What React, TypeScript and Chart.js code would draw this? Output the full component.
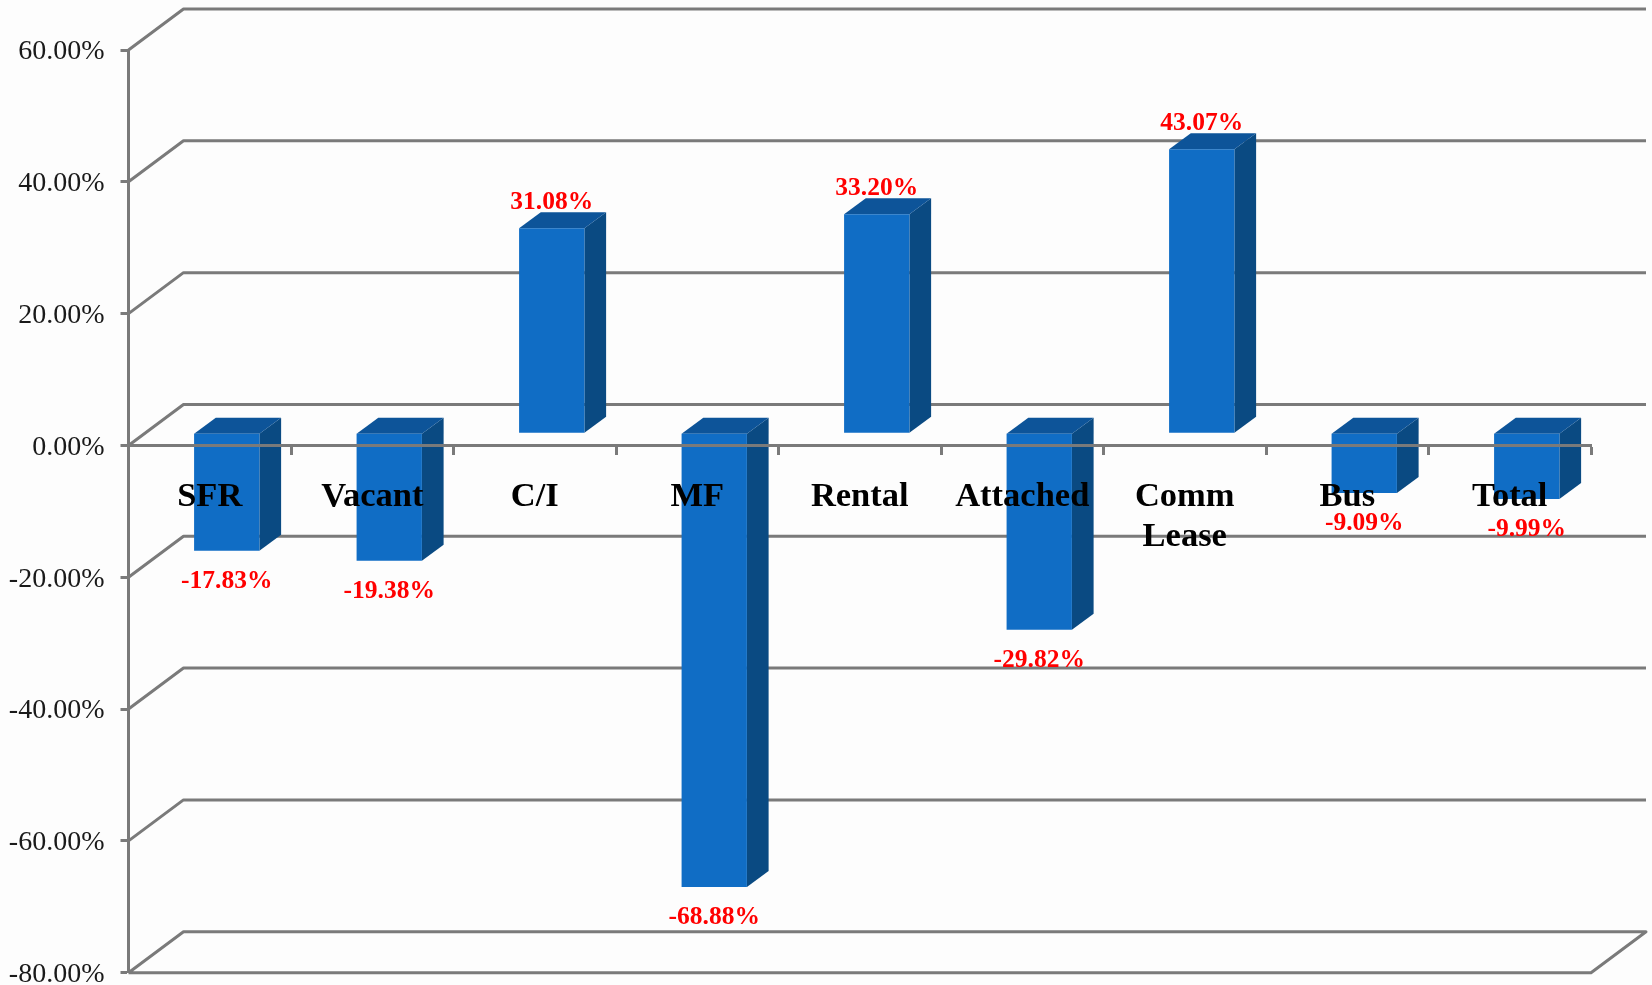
import React, { useEffect, useRef } from "react";
import { Chart, registerables } from "chart.js";

Chart.register(...registerables);

const categories: (string | string[])[] = ["SFR", "Vacant", "C/I", "MF", "Rental", "Attached", ["Comm", "Lease"], "Bus", "Total"];
const changes = [-17.83, -19.38, 31.08, -68.88, 33.2, -29.82, 43.07, -9.09, -9.99];

const GRAY = "#7a7a7a";
const FRONT = "#106dc5";
const TOP = "#0d5499";
const SIDE = "#0a4a82";
const SERIF = '"Liberation Serif", serif';
const LINE = 3;

const WALL_DX = 55;
const WALL_DY = -41;
const BAR_SHIFT_X = 17;
const BAR_SHIFT_Y = -12.3;
const DEPTH_X = 21.7;
const DEPTH_Y = -16;

const scene = {
  id: "scene",
  beforeDraw(chart: any) {
    const { ctx, width, height } = chart;
    ctx.save();
    ctx.fillStyle = "#fdfdfd";
    ctx.fillRect(0, 0, width, height);
    ctx.restore();
  },
  beforeDatasetsDraw(chart: any) {
    const { ctx, scales, chartArea } = chart;
    const y = scales.y;
    ctx.save();
    ctx.strokeStyle = GRAY;
    ctx.lineWidth = LINE;
    ctx.lineJoin = "round";
    y.ticks.forEach((t: any) => {
      const py = y.getPixelForValue(t.value);
      ctx.beginPath();
      ctx.moveTo(chartArea.left, py);
      ctx.lineTo(chartArea.left + WALL_DX, py + WALL_DY);
      ctx.lineTo(chartArea.right + WALL_DX, py + WALL_DY);
      if (t.value === y.min) {
        ctx.lineTo(chartArea.right, py);
        ctx.lineTo(chartArea.left, py);
      }
      ctx.stroke();
    });
    ctx.restore();
  },
  beforeDatasetDraw(chart: any, args: any) {
    const { ctx } = chart;
    const meta = chart.getDatasetMeta(args.index);
    ctx.save();
    ctx.translate(BAR_SHIFT_X, BAR_SHIFT_Y);
    meta.data.forEach((bar: any) => {
      const { x, y, base, width } = bar.getProps(["x", "y", "base", "width"], true);
      const l = x - width / 2;
      const r = x + width / 2;
      const top = Math.min(y, base);
      const bottom = Math.max(y, base);
      ctx.fillStyle = SIDE;
      ctx.beginPath();
      ctx.moveTo(r, top);
      ctx.lineTo(r + DEPTH_X, top + DEPTH_Y);
      ctx.lineTo(r + DEPTH_X, bottom + DEPTH_Y);
      ctx.lineTo(r, bottom);
      ctx.closePath();
      ctx.fill();
      ctx.fillStyle = TOP;
      ctx.beginPath();
      ctx.moveTo(l, top);
      ctx.lineTo(l + DEPTH_X, top + DEPTH_Y);
      ctx.lineTo(r + DEPTH_X, top + DEPTH_Y);
      ctx.lineTo(r, top);
      ctx.closePath();
      ctx.fill();
    });
  },
  afterDatasetDraw(chart: any) {
    chart.ctx.restore();
  },
  afterDraw(chart: any) {
    const { ctx } = chart;
    const meta = chart.getDatasetMeta(0);
    ctx.save();
    ctx.font = `bold 25.5px ${SERIF}`;
    ctx.fillStyle = "#ff0000";
    ctx.textAlign = "center";
    ctx.textBaseline = "middle";
    meta.data.forEach((bar: any, i: number) => {
      const v = changes[i];
      const { x, y } = bar.getProps(["x", "y"], true);
      const off = v >= 0 ? -25.5 : 30.5;
      ctx.fillText(`${v.toFixed(2)}%`, x + BAR_SHIFT_X, y + BAR_SHIFT_Y + off);
    });
    ctx.restore();
  },
};

export default function App() {
  const ref = useRef<HTMLCanvasElement>(null);
  useEffect(() => {
    const chart = new Chart(ref.current!, {
      type: "bar",
      data: {
        labels: categories as any,
        datasets: [
          {
            data: changes,
            backgroundColor: FRONT,
            barPercentage: 0.402,
            categoryPercentage: 1,
            clip: false as any,
          },
        ],
      },
      options: {
        responsive: false,
        animation: false,
        layout: { padding: { top: 50, bottom: 12.3, left: 0, right: 61 } },
        plugins: { legend: { display: false }, tooltip: { enabled: false }, title: { display: false } },
        scales: {
          x: {
            position: { y: 0 } as any,
            offset: true,
            border: { color: GRAY, width: LINE, z: 1 },
            grid: { display: true, drawOnChartArea: false, drawTicks: true, tickLength: 8, tickWidth: LINE, tickColor: GRAY, offset: true, z: 1 },
            ticks: { color: "#000000", font: { family: SERIF, size: 34.5, weight: "bold", lineHeight: 1.15 }, padding: 24, maxRotation: 0, minRotation: 0, autoSkip: false, z: 1 },
            afterFit: (s: any) => {
              s.height = 0;
              s.paddingLeft = 0;
              s.paddingRight = 0;
              s.paddingTop = 0;
              s.paddingBottom = 0;
            },
          },
          y: {
            min: -80,
            max: 60,
            border: { color: GRAY, width: LINE, z: 1 },
            grid: { drawOnChartArea: false, drawTicks: true, tickLength: 8, tickWidth: LINE, tickColor: GRAY, z: 1 },
            ticks: {
              stepSize: 20,
              color: "#1a1a1a",
              font: { family: SERIF, size: 28 },
              padding: 16,
              labelOffset: 2,
              z: 1,
              callback: (v: any) => `${Number(v).toFixed(2)}%`,
            },
            afterFit: (s: any) => {
              s.width = 128.5;
              s.paddingTop = 0;
              s.paddingBottom = 0;
            },
          },
        },
      },
      plugins: [scene],
    });
    return () => chart.destroy();
  }, []);
  return (
    <div style={{ position: "fixed", left: 0, top: 0, width: 1652, height: 985 }}>
      <canvas ref={ref} width={1652} height={985} style={{ display: "block" }} />
    </div>
  );
}
